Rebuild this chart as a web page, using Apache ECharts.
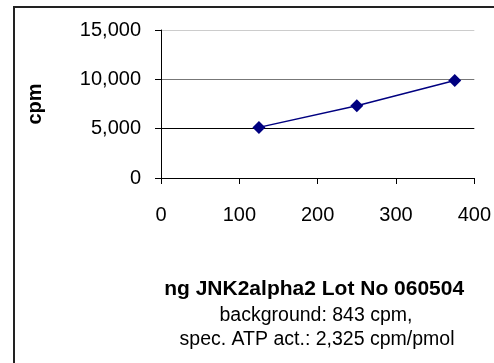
<!DOCTYPE html>
<html>
<head>
<meta charset="utf-8">
<script src="https://cdn.jsdelivr.net/npm/echarts@6/dist/echarts.min.js"></script>
<style>html,body{margin:0;padding:0;background:#fff}#c{width:494px;height:363px}</style>
</head>
<body>
<div id="c"></div>
<script>
const xValues = [125, 250, 375];
const cpmValues = [5130, 7320, 9880];
const xTicks = [0, 100, 200, 300, 400];
const yTicks = [0, 5000, 10000, 15000];
const yTitle = 'cpm';
const xTitle = 'ng JNK2alpha2 Lot No 060504';
const noteLines = ['background: 843 cpm,', 'spec. ATP act.: 2,325 cpm/pmol'];

const FONT = '"Liberation Sans", Arial, sans-serif';
const chart = echarts.init(document.getElementById('c'), null, {renderer: 'canvas'});
chart.setOption({
  animation: false,
  backgroundColor: '#fff',
  grid: {left: 161, right: 17, top: 30, bottom: 185, containLabel: false},
  xAxis: {
    type: 'value', min: xTicks[0], max: xTicks[xTicks.length - 1], interval: 100,
    axisLine: {show: true, onZero: false, lineStyle: {color: '#000', width: 1}},
    axisTick: {show: true, length: 6, inside: false, lineStyle: {color: '#000'}},
    axisLabel: {color: '#000', fontSize: 20, fontFamily: FONT, margin: 27, showMaxLabel: true},
    splitLine: {show: false},
    name: xTitle, nameLocation: 'middle', nameGap: 101,
    nameTextStyle: {color: '#000', fontSize: 21, fontWeight: 'bold', fontFamily: FONT, padding: [0, 7, 0, 0]}
  },
  yAxis: {
    type: 'value', min: yTicks[0], max: yTicks[yTicks.length - 1], interval: 5000,
    axisLine: {show: true, lineStyle: {color: '#000', width: 1}},
    axisTick: {show: true, length: 6, inside: false, lineStyle: {color: '#000'}},
    axisLabel: {color: '#000', fontSize: 20, fontFamily: FONT, margin: 20,
      formatter: v => v.toLocaleString('en-US')},
    splitLine: {show: true, lineStyle: {color: ['#000', '#000', '#777', '#ccc'], width: 1}},
    name: yTitle, nameLocation: 'middle', nameGap: 116, nameRotate: 90,
    nameTextStyle: {color: '#000', fontSize: 20, fontWeight: 'bold', fontFamily: FONT}
  },
  series: [{
    type: 'line',
    data: xValues.map((x, i) => [x, cpmValues[i]]),
    symbol: 'diamond', symbolSize: 13,
    lineStyle: {color: '#000080', width: 1.5},
    itemStyle: {color: '#000080'}
  }],
  graphic: [
    {type: 'rect', shape: {x: 14, y: 7, width: 600, height: 500},
     style: {fill: 'none', stroke: '#222', lineWidth: 2}, silent: true, z: 100},
    {type: 'text', x: 316, y: 316, style: {text: noteLines[0], fill: '#000', font: '19.5px ' + FONT, textAlign: 'center', textVerticalAlign: 'middle'}},
    {type: 'text', x: 317, y: 340, style: {text: noteLines[1], fill: '#000', font: '19.5px ' + FONT, textAlign: 'center', textVerticalAlign: 'middle'}}
  ]
});
</script>
</body>
</html>
